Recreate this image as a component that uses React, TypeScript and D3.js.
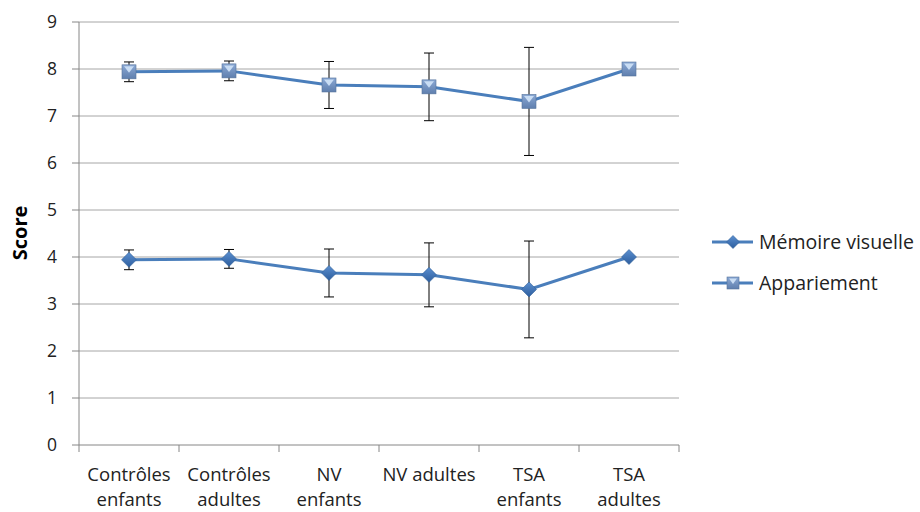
import React from "react";
import * as d3 from "d3";

const categories = [
  ["Contrôles", "enfants"],
  ["Contrôles", "adultes"],
  ["NV", "enfants"],
  ["NV adultes"],
  ["TSA", "enfants"],
  ["TSA", "adultes"],
];
const memoireValues = [3.94, 3.96, 3.66, 3.62, 3.31, 4.0];
const memoireErr = [0.21, 0.2, 0.51, 0.68, 1.03, 0];
const appariementValues = [7.94, 7.96, 7.66, 7.62, 7.31, 8.0];
const appariementErr = [0.21, 0.21, 0.5, 0.72, 1.15, 0];
const yTicks = [0, 1, 2, 3, 4, 5, 6, 7, 8, 9];
const seriesNames = ["Mémoire visuelle", "Appariement"];

const W = 920;
const H = 512;
const left = 79;
const right = 679;
const top = 22;
const bottom = 445;
const FONT = "'Open Sans', 'Noto Sans', sans-serif";
const LINE = "#4a7ebb";

function Diamond({ x, y, s = 7.5 }: { x: number; y: number; s?: number }) {
  return (
    <g>
      <path
        d={`M${x},${y - s}L${x + s},${y}L${x},${y + s}L${x - s},${y}Z`}
        fill="url(#dgrad)"
        stroke="#2f5f99"
        strokeWidth={0.6}
      />
    </g>
  );
}

function Square({ x, y, s = 7 }: { x: number; y: number; s?: number }) {
  return (
    <g>
      <rect x={x - s} y={y - s} width={2 * s} height={2 * s} fill="url(#sgrad)" stroke="#56739c" strokeWidth={0.6} />
      <path d={`M${x - s + 2},${y - s + 1.5}L${x + s - 2},${y - s + 1.5}L${x},${y + 1}Z`} fill="#c9ddf4" />
    </g>
  );
}

export default function App() {
  const x = d3.scaleBand<number>().domain(categories.map((_, i) => i)).range([left, right]);
  const y = d3.scaleLinear().domain([0, 9]).range([bottom, top]);
  const cx = (i: number) => (x(i) as number) + x.bandwidth() / 2;
  const line = d3
    .line<number>()
    .x((_, i) => cx(i))
    .y((d) => y(d));

  const series = [
    { values: memoireValues, err: memoireErr, kind: "d" },
    { values: appariementValues, err: appariementErr, kind: "s" },
  ];
  const boundaries = d3.range(categories.length + 1).map((i) => left + i * x.bandwidth());

  return (
    <svg width={W} height={H} style={{ position: "absolute", left: 0, top: 0 }} fontFamily={FONT}>
      <defs>
        <linearGradient id="dgrad" x1="0" y1="0" x2="0" y2="1">
          <stop offset="0" stopColor="#5b8fd0" />
          <stop offset="1" stopColor="#2d5e9e" />
        </linearGradient>
        <linearGradient id="sgrad" x1="0" y1="0" x2="0" y2="1">
          <stop offset="0" stopColor="#8aa8d4" />
          <stop offset="1" stopColor="#5f7fae" />
        </linearGradient>
      </defs>
      <rect width={W} height={H} fill="#fff" />
      {yTicks.map((t) => (
        <g key={t}>
          {t > 0 && <line x1={left} x2={right} y1={y(t)} y2={y(t)} stroke="#a6a6a6" strokeWidth={1} />}
          <line x1={left - 7} x2={left} y1={y(t)} y2={y(t)} stroke="#868686" />
          <text x={left - 22} y={y(t)} dy="0.35em" textAnchor="end" fontSize={17.5} fill="#222">
            {t}
          </text>
        </g>
      ))}
      <line x1={left} x2={left} y1={top} y2={bottom} stroke="#868686" />
      <line x1={left} x2={right} y1={bottom} y2={bottom} stroke="#868686" />
      {boundaries.map((b, i) => (
        <line key={i} x1={b} x2={b} y1={bottom} y2={bottom + 7} stroke="#868686" />
      ))}
      {categories.map((lines, i) => (
        <text key={i} textAnchor="middle" fontSize={18.5} fill="#222">
          {lines.map((l, j) => (
            <tspan key={j} x={cx(i)} y={481 + j * 25}>
              {l}
            </tspan>
          ))}
        </text>
      ))}
      <text
        transform={`translate(27,233) rotate(-90)`}
        textAnchor="middle"
        fontSize={20}
        fontWeight="bold"
        fill="#000"
      >
        Score
      </text>
      {series.map((s, si) => (
        <g key={si}>
          <path d={line(s.values) || ""} fill="none" stroke={LINE} strokeWidth={3} />
          {s.values.map((v, i) =>
            s.err[i] > 0 ? (
              <g key={i} stroke="#000" strokeWidth={1}>
                <line x1={cx(i)} x2={cx(i)} y1={y(v + s.err[i])} y2={y(v - s.err[i])} />
                <line x1={cx(i) - 5} x2={cx(i) + 5} y1={y(v + s.err[i])} y2={y(v + s.err[i])} />
                <line x1={cx(i) - 5} x2={cx(i) + 5} y1={y(v - s.err[i])} y2={y(v - s.err[i])} />
              </g>
            ) : null
          )}
          {s.values.map((v, i) =>
            s.kind === "d" ? <Diamond key={i} x={cx(i)} y={y(v)} /> : <Square key={i} x={cx(i)} y={y(v)} />
          )}
        </g>
      ))}
      {seriesNames.map((n, i) => {
        const ly = 242 + i * 41;
        return (
          <g key={n}>
            <line x1={712} x2={753} y1={ly} y2={ly} stroke={LINE} strokeWidth={3} />
            {i === 0 ? <Diamond x={733} y={ly} s={6.5} /> : <Square x={733} y={ly} s={6} />}
            <text x={759} y={ly} dy="0.35em" fontSize={19.5} fill="#222">
              {n}
            </text>
          </g>
        );
      })}
    </svg>
  );
}
